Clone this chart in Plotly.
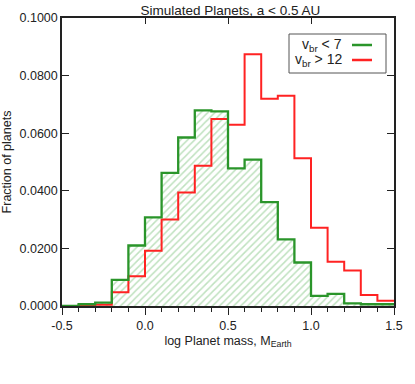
import plotly.graph_objects as go

# Data
bin_left = [-0.5, -0.4, -0.3, -0.2, -0.1, 0.0, 0.1, 0.2, 0.3, 0.4,
            0.5, 0.6, 0.7, 0.8, 0.9, 1.0, 1.1, 1.2, 1.3, 1.4]
bin_width = 0.1
green_frac = [0.0, 0.0006, 0.0012, 0.0091, 0.0210, 0.0308, 0.0462, 0.0585, 0.0679, 0.0676,
              0.0478, 0.0508, 0.0361, 0.0231, 0.0151, 0.0035, 0.0042, 0.0009, 0.0006, 0.0006]
red_frac = [0.0, 0.0003, 0.0004, 0.0048, 0.0103, 0.0192, 0.0300, 0.0394, 0.0487, 0.0649,
            0.0629, 0.0874, 0.0720, 0.0730, 0.0513, 0.0272, 0.0154, 0.0123, 0.0038, 0.0018]
series_names = ["v<sub>br</sub> < 7", "v<sub>br</sub> > 12"]
x_ticks = [-0.5, 0.0, 0.5, 1.0, 1.5]
y_ticks = [0.0, 0.02, 0.04, 0.06, 0.08, 0.10]

GREEN = "#2a952a"
RED = "#ff2222"
HATCH = "#80c480"
FONT = "Liberation Sans, Arial, sans-serif"

edges = bin_left + [bin_left[-1] + bin_width]
centers = [b + bin_width / 2 for b in bin_left]

fig = go.Figure()

# Hatched green fill
fig.add_trace(go.Bar(
    x=centers, y=green_frac, width=[bin_width] * len(centers),
    marker=dict(color="white", line=dict(width=0),
                pattern=dict(shape="/", fgcolor=HATCH, bgcolor="white", size=5, solidity=0.3)),
    showlegend=False, hoverinfo="skip"))

# Red step outline
fig.add_trace(go.Scatter(
    x=edges, y=red_frac + [red_frac[-1]], mode="lines", line_shape="hv",
    line=dict(color=RED, width=2), showlegend=False))

# Green step outline
fig.add_trace(go.Scatter(
    x=edges, y=green_frac + [green_frac[-1]], mode="lines", line_shape="hv",
    line=dict(color=GREEN, width=2.3), showlegend=False))

# Invisible trace for mirrored tick axes
fig.add_trace(go.Scatter(x=[x_ticks[0]], y=[y_ticks[0]], xaxis="x2", yaxis="y2",
                         mode="markers", marker=dict(opacity=0), showlegend=False,
                         hoverinfo="skip"))

fig.update_layout(
    width=415, height=384,
    margin=dict(l=62, r=21, t=18, b=78, autoexpand=False),
    paper_bgcolor="white", plot_bgcolor="white",
    bargap=0,
    font=dict(family=FONT, size=12, color="#222"),
    title=dict(text="Simulated Planets, a < 0.5 AU", x=0.555, xanchor="center",
               y=0.973, yanchor="middle", font=dict(size=13.5, color="#222")),
    xaxis=dict(range=[-0.5, 1.5], tickvals=x_ticks, ticktext=[f"{v:.1f}" for v in x_ticks],
               ticks="outside", ticklen=7, tickwidth=1.3, tickcolor="#222",
               minor=dict(dtick=0.1, tick0=-0.5, ticks="outside", ticklen=4, tickwidth=1,
                          tickcolor="#222", showgrid=False),
               showline=True, linecolor="#222", linewidth=1.5, mirror=True,
               showgrid=False, zeroline=False, automargin=False,
               title=dict(text="log Planet mass, M<sub>Earth</sub>", standoff=4,
                          font=dict(size=12.5)),
               tickfont=dict(size=12.5)),
    yaxis=dict(range=[0, 0.1], tickvals=y_ticks, ticktext=[f"{v:.4f}" for v in y_ticks],
               ticks="inside", ticklen=7, tickwidth=1.3, tickcolor="#222",
               showline=True, linecolor="#222", linewidth=1.5, mirror=True,
               showgrid=False, zeroline=False, automargin=False,
               title=dict(text="Fraction of planets", standoff=9, font=dict(size=12.5)),
               tickfont=dict(size=12.5)),
    xaxis2=dict(range=[-0.5, 1.5], overlaying="x", side="top", tickvals=x_ticks,
                ticks="inside", ticklen=6, tickwidth=1.3, tickcolor="#222",
                showticklabels=False, showgrid=False, zeroline=False, showline=False),
    yaxis2=dict(range=[0, 0.1], overlaying="y", side="right", tickvals=y_ticks,
                ticks="inside", ticklen=7, tickwidth=1.3, tickcolor="#222",
                showticklabels=False, showgrid=False, zeroline=False, showline=False),
    showlegend=False,
)

# Manual legend (text on left, line sample on right)
fig.add_shape(type="rect", xref="paper", yref="paper",
              x0=(289 - 62) / 332, x1=(386 - 62) / 332,
              y0=(306 - 73) / 288, y1=(306 - 34) / 288,
              line=dict(color="#555", width=1), fillcolor="white", layer="above")
for name, col, ypix in [(series_names[0], GREEN, 45), (series_names[1], RED, 60)]:
    yp = (306 - ypix) / 288
    fig.add_annotation(text=name, xref="paper", yref="paper",
                       x=(344 - 62) / 332, y=yp, xanchor="right", yanchor="middle",
                       showarrow=False, font=dict(size=14, color="#222"))
    fig.add_shape(type="line", xref="paper", yref="paper",
                  x0=(352 - 62) / 332, x1=(372 - 62) / 332, y0=yp, y1=yp,
                  line=dict(color=col, width=2.5), layer="above")

fig.write_html("out.html", config={"displayModeBar": False},
               post_script="document.body.style.margin='0';")
